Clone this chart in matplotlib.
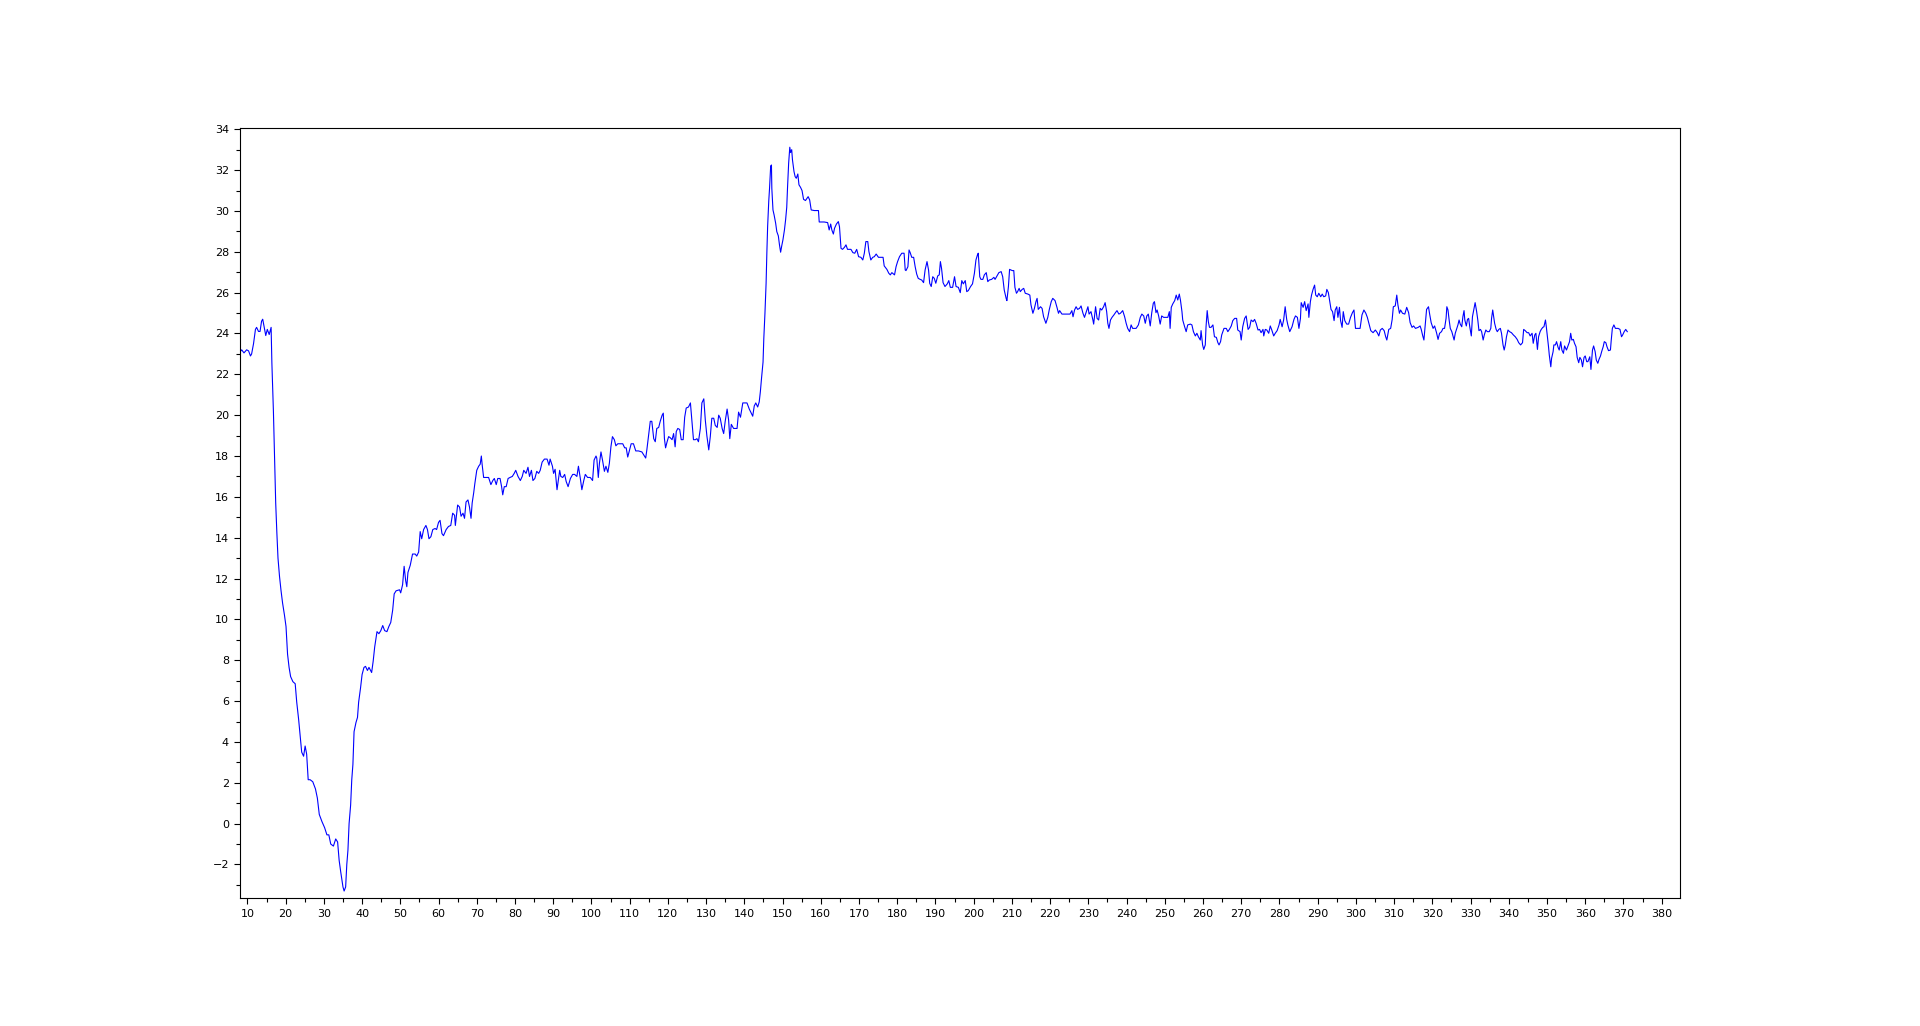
import numpy as np
import matplotlib
matplotlib.use("Agg")
import matplotlib.pyplot as plt
from matplotlib.ticker import MultipleLocator

# values, piece by piece
t_start = [8.1, 8.5, 9.1, 9.8, 10.3, 10.8, 11.1, 11.6, 12.1, 12.4, 12.9, 13.3, 13.7, 14.0,
           14.4, 14.8, 15.2, 15.7, 16.2, 16.4, 16.8, 17.1, 17.4, 17.7, 18.0, 18.4, 18.8,
           19.2, 19.7, 20.1, 20.5, 20.9, 21.3, 21.9, 22.5, 22.9, 23.4, 23.8, 24.2, 24.7,
           25.1, 25.5, 25.9, 26.4, 27.1, 27.8, 28.3, 28.8, 29.5, 30.2, 30.8, 31.3, 31.8,
           32.5, 33.1, 33.6, 34.0, 34.4, 35.0, 35.3, 35.7, 36.0, 36.3, 36.6, 37.0, 37.3,
           37.6, 37.9, 38.4, 38.8, 39.1, 39.6, 40.0, 40.5, 40.9, 41.4, 41.8, 42.5, 42.9,
           43.3, 43.9, 44.4, 44.9, 45.4, 45.9, 46.5, 47.0, 47.5, 48.0, 48.4, 48.9, 49.8]
v_start = [23.1, 23.2, 23.05, 23.2, 23.15, 22.9, 23.0, 23.5, 24.2, 24.3, 24.1, 24.1, 24.6, 24.7,
           24.3, 23.9, 24.2, 23.95, 24.3, 22.55, 20.2, 17.95, 15.7, 14.25, 13.0, 12.1, 11.4,
           10.8, 10.2, 9.65, 8.3, 7.65, 7.2, 6.95, 6.85, 5.95, 5.1, 4.3, 3.5, 3.3,
           3.8, 3.4, 2.15, 2.15, 2.05, 1.7, 1.25, 0.45, 0.1, -0.2, -0.55, -0.55, -1.0,
           -1.1, -0.75, -0.9, -1.8, -2.35, -3.1, -3.3, -3.1, -2.0, -1.3, 0.0, 0.9, 2.15,
           2.9, 4.5, 4.95, 5.2, 5.95, 6.65, 7.3, 7.65, 7.7, 7.5, 7.65, 7.4, 7.95,
           8.65, 9.4, 9.3, 9.45, 9.7, 9.45, 9.4, 9.65, 9.85, 10.45, 11.25, 11.4, 11.45]

t_rise = [50.1, 50.6, 51.0, 51.4, 51.7, 52.0, 52.6, 53.2, 53.9, 54.3, 54.8, 55.2, 55.6, 56.1,
          56.7, 57.1, 57.5, 58.0, 58.5, 59.1, 59.5, 60.0, 60.4, 60.9, 61.3, 62.0, 62.6, 63.2,
          63.7, 64.2, 64.4, 64.6, 65.0, 65.5, 65.9, 66.4, 66.8, 67.2, 67.7, 68.1, 68.5, 68.8,
          69.2, 69.5, 70.0, 70.5, 70.9, 71.2, 71.4, 71.8, 72.5, 73.1, 73.7, 74.2, 74.6, 75.1,
          75.5, 76.1, 76.5, 76.8, 77.2, 77.7, 78.2, 78.7, 79.3, 79.8, 80.2, 80.8, 81.4, 81.9,
          82.3, 82.9, 83.4, 83.8, 84.3, 84.7, 85.2, 85.7, 86.2, 86.6, 87.1, 87.7, 88.4, 88.9,
          89.2, 89.8, 90.1, 90.5, 91.0, 91.3, 91.7, 92.0, 92.5, 93.0, 93.4, 93.9, 94.5, 95.1,
          95.6, 96.2, 96.6, 97.1, 97.5, 98.0, 98.4, 99.0, 99.7, 100.3, 100.7, 101.2, 101.4,
          101.8, 102.1, 102.5, 102.9, 103.4, 103.8, 104.3, 104.7, 105.1, 105.5, 106.0, 106.4,
          106.9, 107.5, 108.2, 108.7, 109.1, 109.5, 110.0, 110.4, 111.0, 111.6, 112.3, 113.2,
          113.7, 114.2, 114.5, 115.0, 115.4, 115.8, 116.3, 116.7, 117.1, 117.6, 118.0, 118.5,
          118.8, 119.1, 119.4, 119.8, 120.2, 120.6, 121.1, 121.5, 121.9, 122.2, 122.6, 123.1,
          123.5, 124.0, 124.4, 124.8, 125.4, 125.9, 126.2, 126.7, 127.2, 127.6, 128.0, 128.5,
          128.9, 129.4, 129.8, 130.2, 130.7, 131.1, 131.5, 132.0, 132.4, 132.9, 133.3, 133.7,
          134.2, 134.6, 135.0, 135.5, 135.9, 136.2, 136.6, 137.2, 138.1, 138.5, 139.0]
v_rise = [11.3, 11.7, 12.6, 11.9, 11.6, 12.3, 12.65, 13.2, 13.2, 13.1, 13.3, 14.3, 13.95, 14.4,
          14.6, 14.4, 13.95, 14.05, 14.4, 14.45, 14.4, 14.75, 14.85, 14.2, 14.1, 14.4, 14.55, 14.6,
          15.2, 15.1, 14.6, 14.95, 15.6, 15.5, 15.05, 15.2, 14.95, 15.75, 15.85, 15.5, 14.95, 15.7,
          16.2, 16.65, 17.3, 17.5, 17.6, 18.0, 17.6, 16.95, 16.95, 16.95, 16.6, 16.8, 16.9, 16.6,
          16.9, 16.9, 16.5, 16.1, 16.5, 16.5, 16.9, 16.95, 17.0, 17.15, 17.3, 17.0, 16.8, 17.0,
          17.3, 17.15, 17.45, 17.0, 17.3, 16.8, 16.9, 17.25, 17.15, 17.3, 17.7, 17.85, 17.85, 17.55,
          17.85, 17.5, 17.15, 17.35, 16.35, 16.75, 17.3, 17.0, 16.95, 17.1, 16.75, 16.5, 16.9, 17.1,
          17.1, 17.0, 17.5, 16.9, 16.35, 16.8, 17.1, 16.95, 16.95, 16.8, 17.8, 18.0, 17.9,
          16.95, 17.65, 18.2, 17.8, 17.25, 17.5, 17.2, 17.65, 18.45, 18.95, 18.8, 18.5,
          18.6, 18.6, 18.6, 18.4, 18.4, 17.95, 18.3, 18.6, 18.6, 18.25, 18.25, 18.2,
          18.05, 17.9, 18.3, 19.1, 19.7, 19.7, 18.85, 18.7, 19.35, 19.4, 19.7, 20.0,
          20.1, 18.85, 18.4, 18.7, 18.95, 18.9, 18.8, 19.1, 18.45, 19.2, 19.35, 19.3,
          18.8, 18.8, 19.9, 20.35, 20.4, 20.6, 19.9, 18.8, 18.8, 18.85, 18.7, 19.35,
          20.6, 20.8, 19.75, 19.0, 18.3, 18.95, 19.85, 19.85, 19.5, 19.4, 20.0, 19.85,
          19.35, 19.1, 19.7, 20.3, 19.75, 18.85, 19.55, 19.35, 19.35, 20.15, 19.9]

t_peak = [139.6, 140.7, 141.3, 142.2, 142.6, 143.0, 143.5, 143.9, 144.2, 144.5, 144.9, 145.1,
          145.4, 145.7, 145.9, 146.1, 146.4, 146.6, 146.9, 147.1, 147.2, 147.5, 147.8, 148.2,
          148.5, 148.9, 149.2, 149.5, 149.8, 150.1, 150.5, 150.8, 151.1, 151.3, 151.6, 151.9,
          152.1, 152.4, 152.6, 153.0, 153.3, 153.6, 154.0, 154.3, 154.7, 155.1, 155.5, 156.0,
          156.4, 156.7, 157.1, 157.5, 158.3, 159.4, 159.6, 160.9, 161.8, 162.2, 162.6, 162.9,
          163.3, 163.6, 164.1, 164.6, 164.9, 165.3, 165.7, 166.2, 166.6, 167.0, 167.9, 168.4,
          168.9, 169.4, 169.9, 170.5, 171.0, 171.4, 171.8, 172.3, 172.6, 173.1, 173.6, 174.0,
          174.5, 175.1, 175.8, 176.3, 176.6, 177.3, 177.8, 178.2, 178.6, 179.3, 179.7, 180.1,
          180.6, 181.2, 181.8, 182.1, 182.3, 182.8, 183.1, 183.4, 183.8, 184.3, 184.7, 185.1,
          185.5, 186.0, 186.4, 186.9, 187.3, 187.8, 188.2, 188.5, 188.9, 189.3, 189.7, 190.1,
          190.6, 191.0, 191.3, 191.6, 192.0, 192.5, 193.1, 193.5, 193.9, 194.5, 195.0, 195.4,
          196.0, 196.5, 196.9, 197.3, 197.8, 198.2, 198.6, 199.2, 199.7, 200.2, 200.6, 201.0,
          201.2, 201.6, 201.9]
v_peak = [20.6, 20.6, 20.3, 19.95, 20.45, 20.6, 20.4, 20.65, 21.15, 21.8, 22.6, 23.75,
          24.99, 26.46, 27.96, 29.23, 30.5, 31.1, 32.2, 32.25, 31.1, 30.05, 29.8, 29.4,
          28.99, 28.78, 28.34, 27.98, 28.3, 28.58, 29.07, 29.56, 30.18, 31.11, 32.34, 33.12,
          32.86, 33.0, 32.5, 31.93, 31.68, 31.6, 31.81, 31.28, 31.16, 31.0, 30.57, 30.51,
          30.62, 30.7, 30.54, 30.05, 30.02, 30.02, 29.46, 29.46, 29.43, 29.07, 29.36, 29.07,
          28.87, 29.15, 29.36, 29.48, 29.23, 28.17, 28.12, 28.22, 28.34, 28.12, 28.12, 27.96,
          27.93, 28.12, 27.76, 27.73, 27.6, 27.93, 28.5, 28.5, 28.01, 27.6, 27.73, 27.76,
          27.89, 27.73, 27.73, 27.73, 27.31, 27.14, 26.95, 26.87, 26.98, 26.87, 27.27, 27.52,
          27.76, 27.93, 27.93, 27.11, 27.08, 27.27, 28.09, 27.96, 27.73, 27.73, 27.27, 26.91,
          26.7, 26.65, 26.62, 26.49, 27.11, 27.52, 27.11, 26.46, 26.3, 26.78, 26.7, 26.46,
          26.82, 26.87, 27.52, 27.19, 26.49, 26.3, 26.43, 26.59, 26.26, 26.26, 26.78, 26.3,
          26.26, 26.0, 26.59, 26.43, 26.59, 26.05, 26.1, 26.3, 26.43, 26.95, 27.6, 27.85,
          27.93, 26.78, 26.65]

t_mid = [202.4, 202.8, 203.3, 203.7, 204.1, 204.7, 205.3, 205.6, 206.0, 206.6, 207.2, 207.6,
         208.0, 208.5, 208.7, 209.1, 209.4, 210.1, 210.5, 210.8, 211.2, 211.5, 211.9, 212.2,
         212.7, 213.1, 213.5, 214.2, 214.7, 215.0, 215.5, 215.9, 216.3, 216.6, 216.9, 217.5,
         217.9, 218.3, 218.9, 219.4, 219.8, 220.3, 220.7, 221.3, 221.8, 222.2, 222.5, 223.1,
         223.8, 224.5, 225.2, 225.7, 226.0, 226.4, 226.8, 227.2, 227.7, 228.1, 228.6, 229.0,
         229.4, 229.9, 230.2, 230.7, 231.2, 231.4, 231.9, 232.3, 232.7, 233.1, 233.5, 234.0,
         234.4, 234.8, 235.1, 235.4, 235.8, 236.2, 236.7, 237.1, 237.5, 238.0, 238.4, 239.0,
         239.5, 239.9, 240.3, 240.8, 241.2, 241.6, 242.5, 243.1, 243.6, 244.0, 244.5, 244.9,
         245.3, 245.7, 246.2, 246.6, 247.0, 247.3, 247.7, 248.0, 248.4, 248.8, 249.2, 249.7,
         250.2, 250.8, 251.2, 251.4, 251.7, 252.1, 252.6, 253.0, 253.4, 253.8, 254.1, 254.5,
         254.7, 255.2, 255.6, 256.0, 256.7, 257.1, 257.5, 258.0, 258.4, 258.8, 259.3, 259.5,
         259.9, 260.2, 260.6, 260.8, 261.1, 261.4, 261.7, 262.1, 262.6, 263.0, 263.5, 263.9,
         264.2, 264.6, 264.9, 265.5, 266.1, 266.5, 266.9, 267.4, 267.8, 268.3, 268.8, 269.1,
         269.7, 270.0, 270.4, 270.9, 271.3, 271.8, 272.2, 272.6, 273.1, 273.5, 273.9, 274.4,
         274.8, 275.2, 275.7, 275.9, 276.3, 276.7, 277.2, 277.6, 278.0, 278.5, 278.9, 279.4,
         279.9, 280.2, 280.7, 281.1, 281.5, 281.9, 282.2, 282.7, 283.3, 283.8, 284.2, 284.7,
         285.1, 285.5, 285.7, 286.2, 286.6, 287.0, 287.5, 287.7, 288.1, 288.4, 288.8, 289.2,
         289.5, 289.9, 290.3, 290.8, 291.2, 291.6, 292.1, 292.4, 292.8, 293.1, 293.5, 293.9,
         294.3, 294.6, 295.0, 295.3, 295.7, 296.0, 296.4, 296.7, 297.1, 297.6, 298.1, 298.6,
         299.1, 299.5, 299.9, 300.6, 301.1, 301.6, 302.1, 302.6, 303.0, 303.4, 303.9, 304.5,
         305.1, 305.6, 306.0, 306.4, 306.9, 307.4, 307.8, 308.1, 308.6, 309.1, 309.5, 309.8,
         310.3, 310.7, 311.0, 311.4, 311.7, 312.2, 312.8, 313.3, 313.8, 314.2, 314.7, 315.1,
         315.6, 316.3, 316.8, 317.1, 317.5, 317.8, 318.2, 318.5, 319.0, 319.3, 319.7, 320.2,
         320.6, 321.1, 321.5, 321.9, 322.4]
v_mid = [26.65, 26.87, 26.98, 26.54, 26.62, 26.65, 26.75, 26.65, 26.78, 26.98, 27.03, 26.78,
         26.13, 25.72, 25.61, 26.3, 27.14, 27.08, 27.08, 26.26, 25.97, 26.05, 26.21, 26.05,
         26.16, 26.21, 25.97, 25.93, 25.88, 25.4, 24.99, 25.23, 25.56, 25.72, 25.18, 25.31,
         25.23, 24.82, 24.5, 24.79, 25.18, 25.56, 25.72, 25.61, 25.28, 24.99, 25.12, 24.95,
         24.95, 24.95, 24.95, 25.12, 24.82, 25.15, 25.31, 25.18, 25.23, 25.35, 24.99, 24.79,
         25.02, 25.31, 24.95, 25.07, 24.66, 24.46, 25.31, 24.74, 24.66, 25.23, 25.15, 25.31,
         25.51, 25.07, 24.5, 24.25, 24.66, 24.79, 24.91, 25.02, 25.12, 24.95, 24.99, 25.12,
         24.82, 24.5, 24.25, 24.09, 24.42, 24.25, 24.25, 24.42, 24.79, 24.95, 24.86, 24.5,
         24.86, 24.95, 24.37, 25.02, 25.48, 25.56, 25.02, 25.15, 24.86, 24.46, 24.86, 24.79,
         24.79, 24.79, 25.07, 24.25, 25.28, 25.45, 25.61, 25.88, 25.64, 25.93, 25.64, 25.07,
         24.66, 24.33, 24.09, 24.42, 24.46, 24.42, 24.09, 23.88, 24.01, 23.84, 23.68, 24.14,
         23.44, 23.22, 23.44, 24.33, 25.12, 24.58, 24.3, 24.3, 24.42, 23.84, 23.81, 23.55,
         23.44, 23.6, 23.93, 24.25, 24.25, 24.09, 24.2, 24.37, 24.63, 24.74, 24.74, 24.17,
         24.09, 23.68, 24.33, 24.74, 24.86, 24.2, 24.3, 24.66, 24.58, 24.69, 24.5, 24.17,
         24.2, 24.04, 24.2, 23.88, 24.2, 24.17, 24.01, 24.37, 24.17, 23.88, 24.01, 24.14,
         24.42, 24.69, 24.33, 24.66, 25.31, 24.69, 24.42, 24.09, 24.33, 24.69, 24.86, 24.79,
         24.25, 24.74, 25.51, 25.28, 25.56, 25.12, 25.45, 24.79, 25.56, 25.88, 26.16, 26.37,
         25.88, 25.8, 25.97, 25.8, 25.93, 25.8, 25.84, 26.16, 26.0, 25.64, 25.18, 25.07,
         24.63, 25.15, 25.31, 24.79, 25.28, 24.63, 24.3, 25.07, 24.63, 24.46, 24.46, 24.79,
         25.02, 25.15, 24.25, 24.25, 24.25, 24.91, 25.15, 24.99, 24.79, 24.5, 24.14, 24.04,
         24.17, 24.04, 23.88, 24.17, 24.25, 24.14, 23.84, 23.68, 24.2, 24.25, 24.69, 25.31,
         25.35, 25.88, 25.4, 24.99, 25.15, 24.99, 24.95, 25.28, 25.02, 24.53, 24.3, 24.37,
         24.25, 24.3, 24.37, 24.2, 23.88, 23.68, 24.53, 25.18, 25.31, 24.95, 24.53, 24.25,
         24.37, 24.04, 23.71, 24.01, 24.09]

t_end = [322.8, 323.2, 323.6, 323.8, 324.1, 324.4, 324.7, 325.1, 325.4, 325.7, 326.0, 326.4,
         326.7, 327.0, 327.3, 327.7, 328.0, 328.3, 328.5, 328.9, 329.2, 329.5, 329.8, 330.2,
         330.5, 330.9, 331.2, 331.6, 331.9, 332.2, 332.6, 332.9, 333.3, 333.6, 334.0, 334.4,
         334.9, 335.3, 335.5, 335.8, 336.0, 336.3, 336.7, 337.0, 337.4, 337.8, 338.1, 338.5,
         338.8, 339.1, 339.4, 339.8, 340.2, 340.7, 341.2, 341.7, 342.2, 342.6, 343.1, 343.6,
         343.9, 344.3, 344.8, 345.2, 345.6, 346.1, 346.4, 346.8, 347.1, 347.5, 347.8, 348.2,
         348.5, 348.9, 349.2, 349.6, 349.8, 350.1, 350.4, 350.6, 351.0, 351.2, 351.6, 351.8,
         352.2, 352.5, 352.9, 353.2, 353.6, 353.9, 354.3, 354.6, 355.1, 355.5, 355.9, 356.2,
         356.5, 356.9, 357.2, 357.6, 357.9, 358.3, 358.6, 359.0, 359.3, 359.7, 360.0, 360.4,
         360.7, 361.2, 361.5, 361.9, 362.2, 362.6, 362.9, 363.3, 363.6, 364.0, 364.3, 364.7,
         365.0, 365.4, 365.7, 366.1, 366.6, 366.8, 367.1, 367.5, 367.9, 368.6, 369.1, 369.5,
         369.8, 370.2, 370.6, 371.0]
v_end = [24.25, 24.25, 24.74, 25.31, 25.15, 24.66, 24.25, 24.09, 23.88, 23.68, 24.01, 24.25,
         24.42, 24.66, 24.46, 24.33, 24.82, 25.12, 24.66, 24.37, 24.69, 24.74, 24.33, 23.88,
         24.82, 25.23, 25.51, 25.07, 24.66, 24.14, 24.2, 24.09, 23.68, 23.93, 24.17, 24.09,
         24.09, 24.25, 24.74, 25.15, 24.9, 24.5, 24.2, 24.09, 24.2, 24.25, 24.01, 23.44,
         23.19, 23.44, 23.84, 24.17, 24.09, 24.04, 23.93, 23.84, 23.71, 23.55, 23.44, 23.55,
         24.2, 24.14, 24.04, 24.04, 23.88, 24.01, 23.52, 23.93, 24.01, 23.22, 23.84, 24.09,
         24.2, 24.3, 24.33, 24.66, 24.37, 23.88, 23.35, 22.95, 22.37, 22.78, 23.11, 23.44,
         23.44, 23.6, 23.32, 23.19, 23.6, 23.19, 23.03, 23.39, 23.19, 23.39, 23.6, 24.01,
         23.68, 23.71, 23.52, 23.35, 22.83, 22.57, 22.83, 22.7, 22.37, 22.83, 22.9, 22.62,
         22.62, 22.86, 22.24, 23.19, 23.39, 23.11, 22.7, 22.54, 22.73, 22.9, 23.11, 23.35,
         23.6, 23.55, 23.35, 23.16, 23.19, 23.65, 24.25, 24.42, 24.25, 24.25, 24.2, 23.84,
         23.93, 24.09, 24.2, 24.09]

t = np.array(t_start + t_rise + t_peak + t_mid + t_end)
y = np.array(v_start + v_rise + v_peak + v_mid + v_end)

fig = plt.figure(figsize=(19.2, 10.26), dpi=100)
ax = fig.add_axes([0.125, 0.125, 0.75, 0.75])
ax.plot(t, y, color='#0000ff', linewidth=0.8)

ax.set_xlim(8.06, 384.8)
ax.set_ylim(-3.63, 34.05)
ax.xaxis.set_major_locator(MultipleLocator(10))
ax.xaxis.set_minor_locator(MultipleLocator(5))
ax.yaxis.set_major_locator(MultipleLocator(2))
ax.yaxis.set_minor_locator(MultipleLocator(1))
ax.tick_params(which='major', direction='out', length=4, width=0.8, labelsize=8, pad=4)
ax.tick_params(which='minor', direction='out', length=3, width=0.8)
for s in ax.spines.values():
    s.set_linewidth(0.8)

fig.savefig('out.png', dpi=100)
